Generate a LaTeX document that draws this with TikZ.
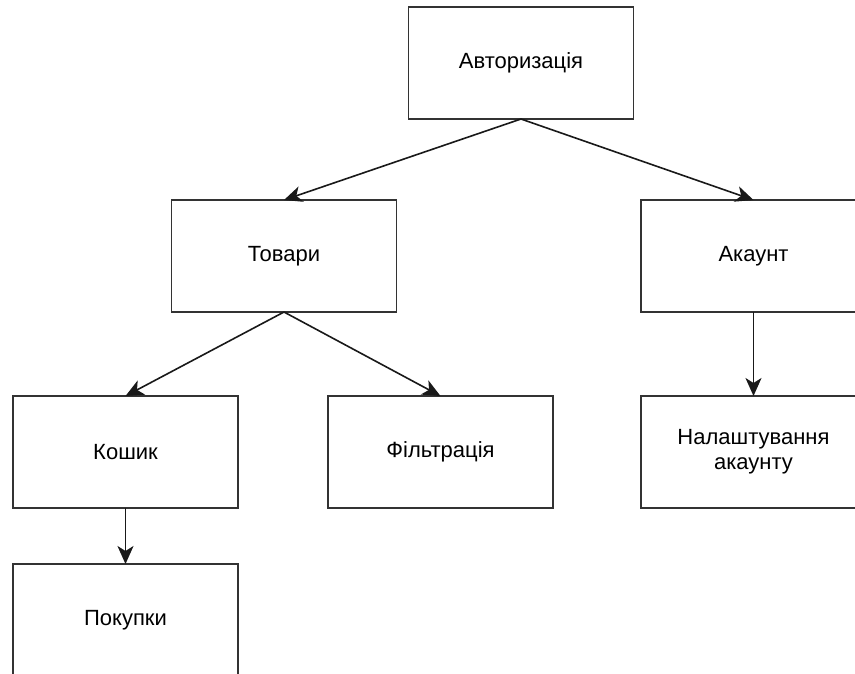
\documentclass[tikz,border=0pt]{standalone}
\usepackage{fontspec}
\setmainfont{Liberation Sans}
\usetikzlibrary{positioning, arrows.meta}

\begin{document}
\begin{tikzpicture}[
  x=1pt, y=1pt,
  block/.style={draw=black!80, line width=1.6pt, fill=white, align=center,
    minimum width=225pt, minimum height=112pt, inner sep=0pt, outer sep=0pt,
    font=\fontsize{22}{25}\selectfont},
  arr/.style={-{Stealth[length=18pt, width=16pt, inset=5pt]}, line width=1.6pt, draw=black!90}
]

% Frame
\useasboundingbox (0,0) rectangle (855,-673);
\clip (0,0) rectangle (855,-673);

% Top level
\node[block] (auth) at (521,-63) {Авторизація};

% Second level
\node[block, below=81pt of auth, xshift=-237pt] (goods) {Товари};
\node[block, below=81pt of auth, xshift=232.5pt] (account) {Акаунт};

% Third level
\node[block, below=84pt of goods, xshift=-158.5pt] (cart) {Кошик};
\node[block, below=84pt of goods, xshift=156.5pt] (filter) {Фільтрація};
\node[block, below=84pt of account] (settings) {Налаштування\\акаунту};

% Fourth level
\node[block, below=56pt of cart] (purchases) {Покупки};

% Links
\draw[arr] (auth.south) -- (goods.north);
\draw[arr] (auth.south) -- (account.north);
\draw[arr] (goods.south) -- (cart.north);
\draw[arr] (goods.south) -- (filter.north);
\draw[arr] (account.south) -- (settings.north);
\draw[arr] (cart.south) -- (purchases.north);

\end{tikzpicture}
\end{document}
